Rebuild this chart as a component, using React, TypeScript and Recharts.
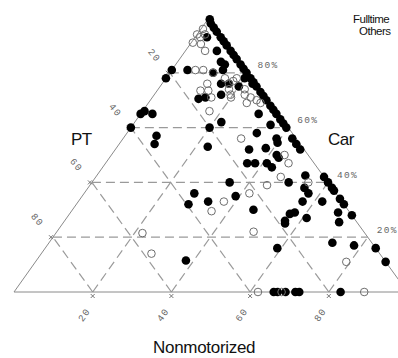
import { ScatterChart, Scatter, XAxis, YAxis, ReferenceLine } from 'recharts';

// shares in percent, PT = 100 - car - nonmotorized
const fulltimeCar = [
  99.5, 98, 96.5, 95, 93, 91.5, 90, 88, 86.5, 85, 83, 81.5, 80, 78, 76.5, 75, 73, 71.5, 70, 68, 66.5, 65, 63, 61.5, 60,
  56, 54, 52, 42, 40, 38, 37, 34, 32, 28, 16, 11,
  81, 78, 81, 66, 65, 65, 60, 57, 54, 93, 88, 84, 83, 80, 81, 76, 76, 72, 70.5, 71, 75, 78, 62, 60, 53,
  65, 58, 61, 56, 54.5, 52, 52.5, 49, 47, 47, 47, 45.5, 50, 42.5, 40, 38, 36, 33, 33, 29, 28.5, 29, 27, 26, 25, 25.5,
  40, 36, 32, 33, 35, 30, 11.5, 16, 18, 17, 76,
  0, 0, 0, 0, 0, 0,
];
const fulltimeNonmot = [
  0.5, 1.5, 3, 4.5, 6.5, 8, 9.5, 11.5, 13, 14.5, 16.5, 18, 19.5, 21.5, 23, 24.5, 26.5, 28, 29.5, 31.5, 33, 34.5, 36.5, 38, 39.5,
  43, 45, 47, 58, 60, 62, 63, 66, 68, 72, 84, 89,
  0, 0, 4, 0.5, 0, 3, 0, 8, 9, 3, 8, 11, 12.5, 11, 13, 15, 17, 17, 12, 13.5, 20, 20, 22, 20, 23,
  30, 33, 35, 39, 40, 34, 38, 43, 36, 38, 41, 43, 42, 53, 50, 55, 57, 57, 62, 57, 56, 68, 61, 56, 56.5, 70,
  35, 28, 28.5, 33, 39, 46, 38, 59, 72, 78, 23,
  66, 67, 69, 71.5, 72.5, 83,
];

const othersCar = [
  96, 94, 94, 93, 91, 90.5, 88, 81, 81, 80, 76, 73.5, 73.5, 78, 77, 74, 71, 71, 66, 74, 72, 71, 70, 69, 72, 69,
  56, 50, 47, 42, 39, 40, 29.5, 33, 36, 22, 21.5, 14, 11, 78, 76, 0, 0, 0,
];
const othersNonmot = [
  0.5, 0, 2, 1.3, 0.4, 2.7, 5, 8, 6, 11, 11.5, 11, 13, 15, 17.6, 18, 20, 15, 17, 22, 23, 25, 27, 28.5, 19.4, 25,
  30, 44, 46.5, 47, 45, 55, 35.6, 37, 42, 50, 22, 28, 79, 18, 17, 62, 68, 89,
];

const gridLevels = [20, 40, 60, 80];
const ptLabels = ['20', '40', '60', '80'];
const nonmotLabels = ['20', '40', '60', '80'];
const carLabels = ['20%', '40%', '60%', '80%'];

// the apex sits a touch left of centre in the original
const K = 0.495;
const toXY = (car: number, nonmot: number) => ({ x: nonmot + K * car, y: car });

const fulltime = fulltimeCar.map((c, i) => toXY(c, fulltimeNonmot[i]));
const others = othersCar.map((c, i) => toXY(c, othersNonmot[i]));

const edges = [
  [toXY(0, 0), toXY(0, 100)],
  [toXY(0, 100), toXY(100, 0)],
  [toXY(100, 0), toXY(0, 0)],
];
const grid = gridLevels.flatMap((k) => [
  [toXY(k, 0), toXY(k, 100 - k)],
  [toXY(0, k), toXY(100 - k, k)],
  [toXY(0, 100 - k), toXY(100 - k, 0)],
]);

const labels = [
  ...gridLevels.map((k, i) => ({ ...toXY(100 - k, 0), text: ptLabels[i], angle: 50, dx: -16, dy: -17, anchor: 'middle' })),
  ...gridLevels.map((k, i) => ({ ...toXY(0, k), text: nonmotLabels[i], angle: -55, dx: -8, dy: 23, anchor: 'middle' })),
  ...gridLevels.map((k, i) => ({ ...toXY(k, 100 - k), text: carLabels[i], angle: 0, dx: 9, dy: -7, anchor: 'start' })),
];
const ticks = [
  ...gridLevels.map((k) => ({ ...toXY(100 - k, 0), dx: -2, dy: 0 })),
  ...gridLevels.map((k) => ({ ...toXY(0, k), dx: 0, dy: 4 })),
];

const FilledDot = (p: any) => <circle cx={p.cx} cy={p.cy} r={4.3} fill="#000" />;
const OpenDot = (p: any) => <circle cx={p.cx} cy={p.cy} r={3.8} fill="none" stroke="#6e6e6e" strokeWidth={1} />;

const TickMark = (p: any) => {
  const x = p.cx + p.payload.dx;
  const y = p.cy + p.payload.dy;
  return (
    <g stroke="#555" strokeWidth={0.8}>
      <line x1={x - 2} y1={y - 2} x2={x + 2} y2={y + 2} />
      <line x1={x - 2} y1={y + 2} x2={x + 2} y2={y - 2} />
    </g>
  );
};

const TickLabel = (p: any) => {
  const d = p.payload;
  const x = p.cx + d.dx;
  const y = p.cy + d.dy;
  return (
    <text
      x={x}
      y={y}
      transform={d.angle ? `rotate(${d.angle} ${x} ${y})` : undefined}
      textAnchor={d.anchor}
      dominantBaseline="central"
      fontFamily="'Liberation Mono', monospace"
      fontSize={9.5}
      letterSpacing={1.3}
      fill="#666"
    >
      {d.text}
    </text>
  );
};

export default function App() {
  return (
    <div style={{ position: 'absolute', left: 0, top: 0, width: 398, height: 358, overflow: 'hidden', background: '#fff' }}>
      <ScatterChart width={420} height={358} margin={{ top: 18, left: 14, right: 12.5, bottom: 66 }}>
        <XAxis type="number" dataKey="x" domain={[0, 100]} hide />
        <YAxis type="number" dataKey="y" domain={[0, 100]} hide />
        {grid.map((seg, i) => (
          <ReferenceLine key={'g' + i} segment={seg} stroke="#9a9a9a" strokeWidth={1.2} strokeDasharray="9 5" ifOverflow="visible" />
        ))}
        {edges.map((seg, i) => (
          <ReferenceLine key={'e' + i} segment={seg} stroke="#8a8a8a" strokeWidth={1} ifOverflow="visible" />
        ))}
        <Scatter data={ticks} shape={TickMark} isAnimationActive={false} />
        <Scatter data={labels} shape={TickLabel} isAnimationActive={false} />
        <Scatter name="Fulltime" data={fulltime} shape={FilledDot} isAnimationActive={false} />
        <Scatter name="Others" data={others} shape={OpenDot} isAnimationActive={false} />
      </ScatterChart>
      <svg width={398} height={358} style={{ position: 'absolute', left: 0, top: 0, pointerEvents: 'none' }}>
        <g fontFamily="'Liberation Sans', Arial, sans-serif" fill="#111">
          <text x={71} y={145} fontSize={17} letterSpacing={-0.5}>PT</text>
          <text x={328} y={145} fontSize={17} letterSpacing={-0.5}>Car</text>
          <text x={153} y={353} fontSize={17} letterSpacing={-0.3}>Nonmotorized</text>
          <text x={353} y={23} fontSize={11.5} letterSpacing={-0.5}>Fulltime</text>
          <text x={359} y={35} fontSize={11.5} letterSpacing={-0.5}>Others</text>
        </g>
      </svg>
    </div>
  );
}
